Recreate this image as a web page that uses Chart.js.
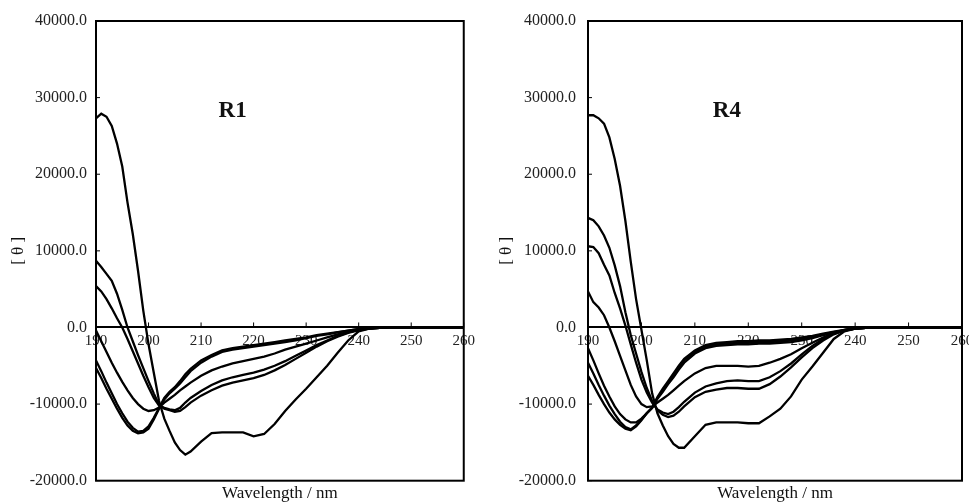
<!DOCTYPE html>
<html>
<head>
<meta charset="utf-8">
<script src="https://cdn.jsdelivr.net/npm/chart.js@4.4.0/dist/chart.umd.min.js"></script>
<style>
  html, body { margin: 0; padding: 0; background: #fff; overflow: hidden; }
  #wrap { position: relative; width: 969px; height: 502px; overflow: hidden; }
  .panel { position: absolute; top: 0; height: 502px; }
  #left { left: 0; width: 480px; }
  #right { left: 480px; width: 500px; }
</style>
</head>
<body>
<div id="wrap">
  <div class="panel" id="left"><canvas id="chartR1" width="480" height="502"></canvas></div>
  <div class="panel" id="right"><canvas id="chartR4" width="500" height="502"></canvas></div>
</div>
<script>
// CD spectra, [theta] vs wavelength, two samples

const wavelengths = [190, 191, 192, 193, 194, 195, 196, 197, 198, 199, 200, 201, 202, 203, 204, 205, 206, 207, 208,
  210, 212, 214, 216, 218, 220, 222, 224, 226, 228, 230, 232, 234, 236, 238, 240, 242, 244, 246, 250, 260];

const xTicks = [190, 200, 210, 220, 230, 240, 250, 260];
const yTicks = [-20000, -10000, 0, 10000, 20000, 30000, 40000];

// R1 curves
const r1A = [27300, 27900, 27500, 26300, 24000, 21000, 16300, 12200, 7400, 2200, -2200, -5900, -9600, -11900, -13500, -15000, -16000, -16600, -16200,
  -14900, -13800, -13700, -13700, -13700, -14200, -13900, -12600, -10900, -9400, -8000, -6500, -5000, -3300, -1700, -500, -150, -50, 0, 0, 0];
const r1B = [8700, 7900, 7000, 6100, 4400, 2300, 0, -1800, -3600, -5300, -7000, -8600, -10100, -10600, -10800, -11000, -10900, -10400, -9800,
  -8900, -8200, -7600, -7200, -6900, -6600, -6200, -5600, -4900, -4100, -3300, -2500, -1800, -1200, -700, -350, -150, -50, 0, 0, 0];
const r1C = [5400, 4700, 3700, 2500, 1200, 0, -1500, -3100, -4700, -6300, -7800, -9200, -10200, -10500, -10700, -10800, -10500, -9800, -9200,
  -8300, -7500, -6900, -6500, -6200, -5900, -5500, -5000, -4400, -3700, -3000, -2300, -1700, -1100, -650, -300, -120, -40, 0, 0, 0];
const r1D = [-400, -1800, -3200, -4600, -5900, -7100, -8200, -9200, -10000, -10600, -10900, -10800, -10450, -9800, -9300, -8800, -8200, -7700, -7200,
  -6300, -5600, -5100, -4700, -4400, -4100, -3800, -3400, -2900, -2500, -2100, -1700, -1300, -900, -600, -300, -150, -50, 0, 0, 0];
const r1E = [-4300, -5700, -7200, -8600, -10000, -11200, -12300, -13100, -13600, -13500, -12900, -11800, -10500, -9200, -8400, -7800, -7000, -6100, -5400,
  -4300, -3600, -3000, -2700, -2500, -2300, -2100, -1900, -1700, -1500, -1300, -1000, -800, -600, -400, -200, -100, 0, 0, 0, 0];
const r1F = [-5300, -6600, -8000, -9300, -10600, -11800, -12800, -13500, -13800, -13700, -13200, -12000, -10600, -9400, -8600, -8000, -7300, -6500, -5700,
  -4600, -3800, -3200, -2900, -2700, -2500, -2300, -2100, -1900, -1700, -1400, -1100, -900, -650, -420, -220, -100, 0, 0, 0, 0];

// R4 curves
const r4A = [27700, 27700, 27300, 26600, 24800, 22000, 18500, 13900, 8600, 3700, -300, -4300, -8600, -11200, -12800, -14200, -15200, -15700, -15700,
  -14200, -12700, -12400, -12400, -12400, -12500, -12500, -11600, -10600, -9000, -6800, -5100, -3300, -1500, -500, -150, -50, 0, 0, 0, 0];
const r4B = [14300, 14000, 13200, 12000, 10400, 8100, 5400, 2000, -1000, -3400, -5800, -7900, -9600, -10800, -11400, -11700, -11500, -11000, -10300,
  -9100, -8400, -8100, -7900, -7900, -8000, -8000, -7400, -6400, -5200, -3900, -2700, -1700, -900, -400, -150, -50, 0, 0, 0, 0];
const r4C = [10600, 10500, 9700, 8200, 6800, 4500, 2500, 250, -2200, -4600, -6800, -8500, -9800, -10700, -11100, -11300, -11000, -10400, -9700,
  -8500, -7700, -7300, -7000, -6900, -7000, -7000, -6500, -5700, -4700, -3500, -2400, -1500, -800, -350, -130, -40, 0, 0, 0, 0];
const r4D = [4700, 3300, 2600, 1600, 0, -1800, -3700, -5600, -7500, -9000, -10000, -10400, -10300, -9800, -9300, -8800, -8200, -7600, -7000,
  -6000, -5300, -5000, -5000, -5000, -5100, -5000, -4600, -4100, -3500, -2700, -2000, -1300, -700, -300, -100, 0, 0, 0, 0, 0];
const r4E = [-2700, -4300, -6000, -7600, -9000, -10300, -11300, -12000, -12400, -12400, -11900, -11200, -10500, -9200, -8200, -7200, -6200, -5200, -4300,
  -3200, -2500, -2200, -2100, -2000, -2000, -1900, -1900, -1800, -1700, -1500, -1200, -900, -600, -350, -150, -50, 0, 0, 0, 0];
const r4F = [-4600, -6000, -7500, -8900, -10200, -11300, -12300, -13000, -13300, -12800, -12000, -11200, -10500, -9300, -8400, -7400, -6500, -5500, -4600,
  -3400, -2700, -2400, -2300, -2200, -2200, -2100, -2100, -2000, -1900, -1700, -1400, -1000, -700, -400, -150, -50, 0, 0, 0, 0];
const r4G = [-6300, -7500, -8800, -10000, -11100, -12000, -12700, -13200, -13400, -12900, -12100, -11200, -10500, -9100, -8000, -7000, -6000, -5000, -4100,
  -3000, -2300, -2000, -1900, -1800, -1800, -1700, -1700, -1600, -1500, -1300, -1100, -800, -550, -300, -120, -40, 0, 0, 0, 0];

const SERIF = '"Liberation Serif", "DejaVu Serif", serif';

// Box, inward ticks and panel name
const cdFrame = {
  id: 'cdFrame',
  afterDraw(chart, args, opts) {
    const { ctx, chartArea: a, scales: { x, y } } = chart;
    ctx.save();
    ctx.strokeStyle = '#000';
    ctx.lineWidth = 2;
    ctx.strokeRect(a.left, a.top, a.right - a.left, a.bottom - a.top);

    ctx.lineWidth = 1;
    y.ticks.forEach(t => {
      const py = y.getPixelForValue(t.value);
      ctx.beginPath();
      ctx.moveTo(a.left, py);
      ctx.lineTo(a.left + 4, py);
      ctx.stroke();
    });

    const zero = y.getPixelForValue(0);
    x.ticks.forEach(t => {
      const px = x.getPixelForValue(t.value);
      ctx.beginPath();
      ctx.moveTo(px, zero);
      ctx.lineTo(px, zero - 5);
      ctx.stroke();
    });

    ctx.font = 'bold 23px ' + SERIF;
    ctx.fillStyle = '#111';
    ctx.textAlign = 'center';
    ctx.textBaseline = 'middle';
    ctx.fillText(opts.label, x.getPixelForValue(216), y.getPixelForValue(28200));
    ctx.restore();
  }
};

function makePanel(canvasId, label, series, pad) {
  const datasets = series.map(values => ({
    data: wavelengths.map((w, i) => ({ x: w, y: values[i] })),
    borderColor: '#000',
    borderWidth: 2.3,
    pointRadius: 0,
    tension: 0,
    fill: false
  }));

  return new Chart(document.getElementById(canvasId), {
    type: 'line',
    data: { datasets },
    plugins: [cdFrame],
    options: {
      responsive: false,
      animation: false,
      layout: { padding: { left: pad.left, right: pad.right, top: 21, bottom: 0 } },
      scales: {
        x: {
          type: 'linear',
          position: { y: 0 },
          min: 190,
          max: 260,
          afterBuildTicks: s => { s.ticks = xTicks.map(v => ({ value: v })); },
          ticks: {
            padding: 5,
            maxRotation: 0,
            autoSkip: false,
            color: '#222',
            font: { family: SERIF, size: 15 }
          },
          grid: { display: false, drawTicks: false },
          border: { display: true, color: '#000', width: 2 }
        },
        y: {
          min: -20000,
          max: 40000,
          afterBuildTicks: s => { s.ticks = yTicks.map(v => ({ value: v })); },
          afterFit: s => { s.width = pad.axis; },
          ticks: {
            padding: pad.tick,
            color: '#222',
            font: { family: SERIF, size: 16, lineHeight: 1 },
            callback: v => v.toFixed(1)
          },
          title: {
            display: true,
            text: '[ θ ]',
            color: '#111',
            font: { family: SERIF, size: 17 },
            padding: 4
          },
          grid: { display: false, drawTicks: false },
          border: { display: false }
        }
      },
      plugins: {
        legend: { display: false },
        tooltip: { enabled: false },
        title: {
          display: true,
          position: 'bottom',
          fullSize: false,
          text: 'Wavelength / nm',
          color: '#111',
          font: { family: SERIF, size: 17, weight: 'normal', lineHeight: 0.9 },
          padding: { top: 5, bottom: 1 }
        },
        cdFrame: { label }
      }
    }
  });
}

makePanel('chartR1', 'R1', [r1A, r1B, r1C, r1D, r1E, r1F], { left: 4, right: 14, axis: 92, tick: 9 });
makePanel('chartR4', 'R4', [r4A, r4B, r4C, r4D, r4E, r4F, r4G], { left: 12, right: 18, axis: 96, tick: 12 });
</script>
</body>
</html>
